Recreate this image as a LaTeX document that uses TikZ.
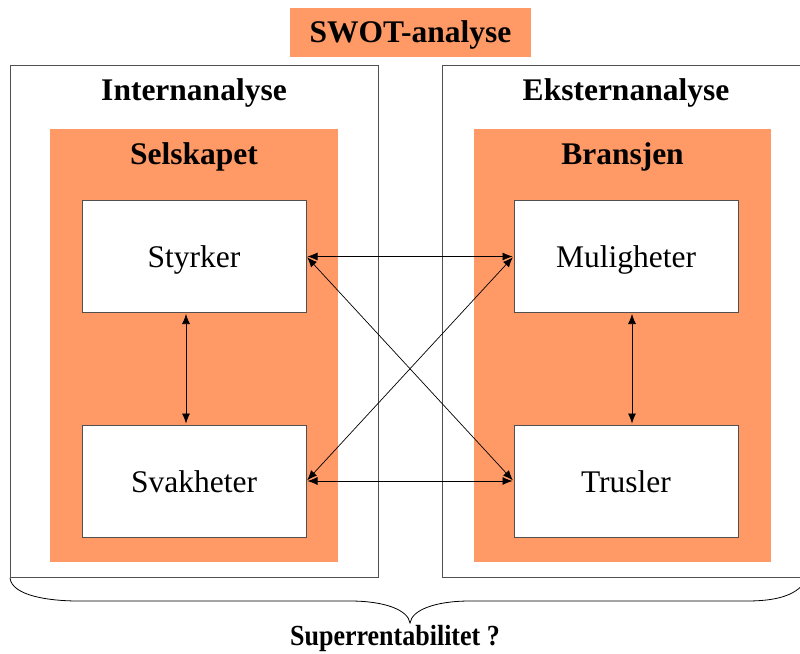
\documentclass[tikz,border=0pt]{standalone}
\usepackage{fontspec}
\usepackage{graphicx}
\setmainfont{Liberation Serif}
\usetikzlibrary{arrows.meta}
\definecolor{swotorange}{RGB}{255,153,102}
\definecolor{frame}{RGB}{80,80,80}
\tikzset{
  panel/.style={draw=frame, line width=1pt, fill=white},
  band/.style={fill=swotorange},
  factor/.style={draw=frame, line width=1pt, fill=white, font=\fontsize{31.5}{36}\selectfont,
    minimum width=224pt, minimum height=112pt, inner sep=0pt},
  heading/.style={font=\fontsize{31.5}{36}\selectfont\bfseries, inner sep=0pt},
  link/.style={black, line width=0.7pt, {Latex[length=10pt,width=8pt]}-{Latex[length=10pt,width=8pt]}, shorten <=1pt, shorten >=1pt},
  bracestroke/.style={black, line width=0.8pt}
}
% box label with its baseline a fixed distance below the box centre
\newcommand{\boxtext}[1]{\raisebox{-11pt}[0pt][0pt]{#1}}
\begin{document}
\begin{tikzpicture}[x=1pt,y=-1pt]
\useasboundingbox (0,0) rectangle (800,653);

% title
\node[fill=swotorange, minimum width=241pt, minimum height=49pt, inner sep=0pt] (title) at (410.5,32.5) {};
\node[heading] (titletxt) at (410.5,35) {SWOT-analyse};

% outer panels
\draw[panel] (10,65) rectangle (378,577);
\draw[panel] (442,65) rectangle (812,577);
\node[heading] (intern) at (194,93) {Internanalyse};
\node[heading] (extern) at (626,93) {Eksternanalyse};

% orange bands
\fill[band] (50,129) rectangle (338,562);
\fill[band] (474,129) rectangle (771,562);
\node[heading] (selskap) at (194,157) {Selskapet};
\node[heading] (bransje) at (622.5,157) {Bransjen};

% factor boxes
\node[factor] (S) at (194,256.5) {\boxtext{Styrker}};
\node[factor] (W) at (194,481) {\boxtext{Svakheter}};
\node[factor] (O) at (626,256.5) {\boxtext{Muligheter}};
\node[factor] (T) at (626,481) {\boxtext{Trusler}};

% connectors
\draw[link] (S.south -| 186,0) -- (W.north -| 186,0);
\draw[link] (O.south -| 632,0) -- (T.north -| 632,0);
\draw[link] (S.east) -- (O.west);
\draw[link] (W.east) -- (T.west);
\draw[link] (S.east) -- (T.west);
\draw[link] (W.east) -- (O.west);

% brace under both panels
\coordinate (bl) at (10,578);
\coordinate (br) at (805,582);
\coordinate (tip) at (410,623);
\draw[bracestroke] (bl) .. controls (12,596) and (50,601) .. (78,601)
  -- (350,601) .. controls (385,601) and (408,610) .. (tip)
  .. controls (412,610) and (435,601) .. (470,601)
  -- (747,601) .. controls (775,601) and (795,596) .. (br);
\node[font=\fontsize{26}{30}\selectfont\bfseries, inner sep=0pt] (super) at (395,638) {\scalebox{1}[1.12]{Superrentabilitet ?}};
\end{tikzpicture}
\end{document}
